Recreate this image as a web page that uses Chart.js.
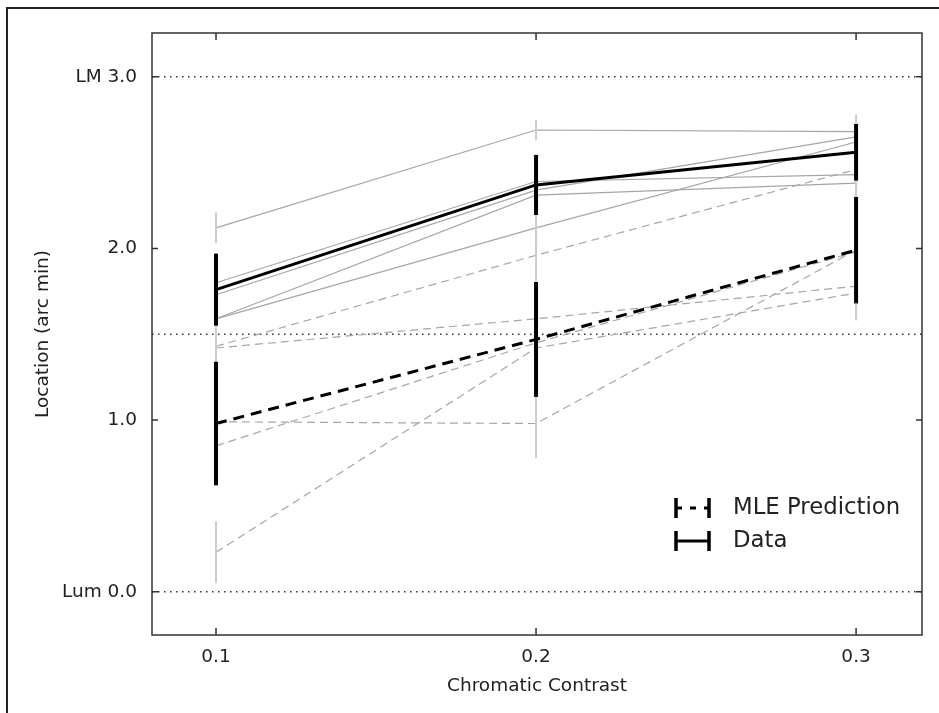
<!DOCTYPE html>
<html>
<head>
<meta charset="utf-8">
<script src="https://cdn.jsdelivr.net/npm/chart.js@4.4.0/dist/chart.umd.min.js"></script>
<style>
  html, body { margin: 0; padding: 0; background: #fff; overflow: hidden; }
  #frame { position: absolute; left: 6px; top: 7px; right: 0; bottom: 0; border-left: 2px solid #222; border-top: 2px solid #222; }
  #wrap { position: absolute; left: 0; top: 0; width: 939px; height: 713px; }
</style>
</head>
<body>
<div id="frame"></div>
<div id="wrap"><canvas id="chart"></canvas></div>
<script>
// chromatic contrast levels
const contrasts = [0.1, 0.2, 0.3];
const xTickLabels = ['0.1', '0.2', '0.3'];
const yTickValues = [0, 1, 2, 3];
const yTickLabels = ['Lum 0.0', '1.0', '2.0', 'LM 3.0'];
const refLines = [0, 1.5, 3];
const legendLabels = ['MLE Prediction', 'Data'];

// individual observers, measured locations
const subjectData = [
  [2.12, 2.69, 2.68],
  [1.80, 2.39, 2.43],
  [1.73, 2.34, 2.65],
  [1.59, 2.31, 2.38],
  [1.59, 2.12, 2.62]
];
const subjectDataErr = [
  [0.09, 0.06, 0.10],
  [0.08, 0.08, 0.08],
  [0.08, 0.08, 0.08],
  [0.10, 0.10, 0.10],
  [0.10, 0.10, 0.10]
];

// individual observers, MLE predictions
const subjectMle = [
  [1.43, 1.96, 2.46],
  [1.42, 1.59, 1.78],
  [0.99, 0.98, 1.99],
  [0.85, 1.45, 1.98],
  [0.23, 1.42, 1.74]
];
const subjectMleErr = [
  [0.08, 0.15, 0.15],
  [0.08, 0.12, 0.10],
  [0.10, 0.20, 0.10],
  [0.10, 0.15, 0.10],
  [0.18, 0.20, 0.16]
];

// group means
const meanData = [1.76, 2.37, 2.56];
const meanDataErr = [0.21, 0.175, 0.165];
const meanMle = [0.98, 1.47, 1.99];
const meanMleErr = [0.36, 0.335, 0.31];

const FONT = "'DejaVu Sans', sans-serif";
const TEXT = '#222';

function pts(vals) {
  return contrasts.map((x, i) => ({ x: x, y: vals[i] }));
}

const datasets = [];
subjectMle.forEach((vals, i) => {
  datasets.push({ data: pts(vals), errors: subjectMleErr[i], errColor: '#cdcdcd', errWidth: 2,
    borderColor: '#a6a6a6', borderWidth: 1.2, borderDash: [8, 5], pointRadius: 0, order: 4 });
});
subjectData.forEach((vals, i) => {
  datasets.push({ data: pts(vals), errors: subjectDataErr[i], errColor: '#cdcdcd', errWidth: 2,
    borderColor: '#a6a6a6', borderWidth: 1.2, pointRadius: 0, order: 3 });
});
datasets.push({ data: pts(meanMle), errors: meanMleErr, errColor: '#000', errWidth: 4,
  borderColor: '#000', borderWidth: 3, borderDash: [11, 7], pointRadius: 0, order: 2 });
datasets.push({ data: pts(meanData), errors: meanDataErr, errColor: '#000', errWidth: 4,
  borderColor: '#000', borderWidth: 3, pointRadius: 0, order: 1 });

// vertical error bars, drawn right after their own line
const errorBars = {
  id: 'errorBars',
  afterDatasetDraw(chart, args) {
    const ds = chart.data.datasets[args.index];
    if (!ds.errors) return;
    const { ctx, scales: { x, y } } = chart;
    ctx.save();
    ctx.strokeStyle = ds.errColor;
    ctx.lineWidth = ds.errWidth;
    ctx.setLineDash([]);
    ds.data.forEach((p, i) => {
      const px = x.getPixelForValue(p.x);
      ctx.beginPath();
      ctx.moveTo(px, y.getPixelForValue(p.y + ds.errors[i]));
      ctx.lineTo(px, y.getPixelForValue(p.y - ds.errors[i]));
      ctx.stroke();
    });
    ctx.restore();
  }
};

// dotted reference lines
const dottedLines = {
  id: 'dottedLines',
  beforeDatasetsDraw(chart) {
    const { ctx, chartArea: a, scales: { y } } = chart;
    ctx.save();
    ctx.strokeStyle = '#333';
    ctx.lineWidth = 1.5;
    ctx.setLineDash([1.5, 4.5]);
    refLines.forEach(v => {
      const py = y.getPixelForValue(v);
      ctx.beginPath();
      ctx.moveTo(a.left, py);
      ctx.lineTo(a.right, py);
      ctx.stroke();
    });
    ctx.restore();
  }
};

// axes box, inward ticks and the legend
const frameAndLegend = {
  id: 'frameAndLegend',
  afterDraw(chart) {
    const { ctx, chartArea: a, scales: { x, y } } = chart;
    ctx.save();
    ctx.strokeStyle = '#333';
    ctx.lineWidth = 1.5;
    ctx.setLineDash([]);
    ctx.strokeRect(a.left, a.top, a.right - a.left, a.bottom - a.top);
    ctx.beginPath();
    yTickValues.forEach(v => {
      const py = y.getPixelForValue(v);
      ctx.moveTo(a.left, py); ctx.lineTo(a.left + 6, py);
      ctx.moveTo(a.right, py); ctx.lineTo(a.right - 6, py);
    });
    contrasts.forEach(v => {
      const px = x.getPixelForValue(v);
      ctx.moveTo(px, a.bottom); ctx.lineTo(px, a.bottom - 7);
      ctx.moveTo(px, a.top); ctx.lineTo(px, a.top + 7);
    });
    ctx.stroke();

    // legend
    const lx0 = 676, lx1 = 709;
    const rows = [508, 541];
    ctx.strokeStyle = '#000';
    rows.forEach((ry, i) => {
      ctx.lineWidth = 3.5;
      ctx.beginPath();
      ctx.moveTo(lx0, ry - 10); ctx.lineTo(lx0, ry + 10);
      ctx.moveTo(lx1, ry - 10); ctx.lineTo(lx1, ry + 10);
      ctx.stroke();
      ctx.lineWidth = 3;
      ctx.setLineDash(i === 0 ? [6, 8] : []);
      ctx.beginPath();
      ctx.moveTo(lx0, ry); ctx.lineTo(lx1, ry);
      ctx.stroke();
      ctx.setLineDash([]);
    });
    ctx.fillStyle = TEXT;
    ctx.font = '22.8px ' + FONT;
    ctx.textBaseline = 'middle';
    ctx.textAlign = 'left';
    legendLabels.forEach((t, i) => ctx.fillText(t, 733, rows[i]));
    ctx.restore();
  }
};

new Chart(document.getElementById('chart'), {
  type: 'line',
  data: { datasets: datasets },
  options: {
    responsive: true,
    maintainAspectRatio: false,
    animation: false,
    layout: { padding: { left: 0, top: 33, right: 17, bottom: 0 } },
    plugins: { legend: { display: false }, tooltip: { enabled: false } },
    scales: {
      x: {
        type: 'linear',
        min: 0.08,
        max: 0.3206,
        grid: { display: false, drawTicks: false },
        border: { display: false },
        afterBuildTicks: s => { s.ticks = contrasts.map(v => ({ value: v })); },
        afterFit: s => { s.height = 78; },
        ticks: {
          color: TEXT,
          padding: 11,
          font: { family: FONT, size: 18.5 },
          callback: (v, i) => xTickLabels[i]
        },
        title: {
          display: true,
          text: 'Chromatic Contrast',
          color: TEXT,
          font: { family: FONT, size: 18.5 },
          padding: { top: 0, bottom: 16 }
        }
      },
      y: {
        min: -0.252,
        max: 3.255,
        grid: { display: false, drawTicks: false },
        border: { display: false },
        afterBuildTicks: s => { s.ticks = yTickValues.map(v => ({ value: v })); },
        afterFit: s => { s.width = 152; },
        ticks: {
          color: TEXT,
          padding: 15,
          font: { family: FONT, size: 18.5 },
          callback: (v, i) => yTickLabels[i]
        },
        title: {
          display: true,
          text: 'Location (arc min)',
          color: TEXT,
          font: { family: FONT, size: 18.5 },
          padding: { top: 32, bottom: 0 }
        }
      }
    }
  },
  plugins: [dottedLines, errorBars, frameAndLegend]
});
</script>
</body>
</html>
